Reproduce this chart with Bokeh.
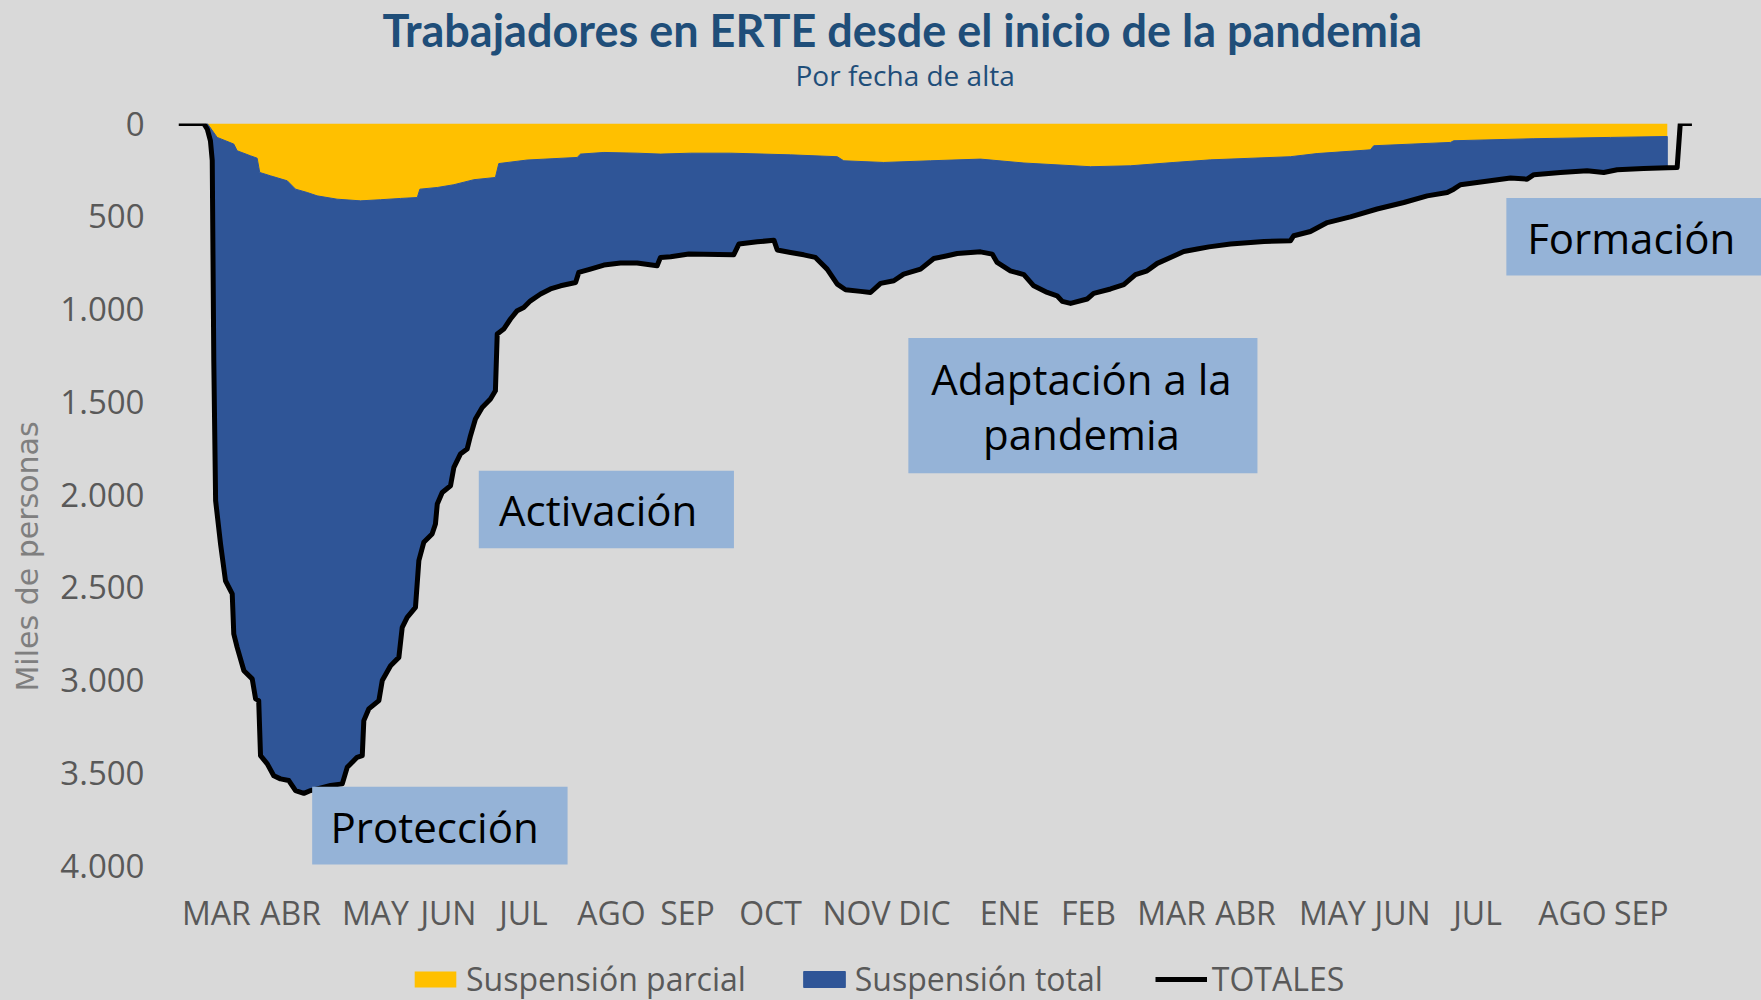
from bokeh.plotting import figure
from bokeh.layouts import column
from bokeh.models import Range1d, FixedTicker, Legend, LegendItem, Title, BoxAnnotation, Label
from bokeh.embed import file_html
from bokeh.resources import INLINE

# Días transcurridos desde el 1 de marzo de 2020 (fecha de alta)
dia_tot = [0.0, 9.7, 11.1, 12.3, 13.0, 13.6, 14.3, 16.2, 18.1, 20.7, 21.3, 22.6, 25.2, 28.4, 29.7,
           30.9, 31.6, 34.2, 36.7, 39.3, 42.5, 45.1, 48.3, 50.9, 58.6, 63.1, 65.0, 68.8, 70.8, 71.4,
           73.3, 77.2, 78.5, 81.7, 84.9, 86.2, 88.1, 91.3, 92.6, 94.5, 97.7, 99.0, 99.7, 101.6,
           104.8, 106.1, 108.6, 111.2, 112.5, 114.4, 117.0, 120.2, 122.1, 122.8, 125.3, 127.9,
           130.5, 133.0, 135.6, 139.5, 143.3, 147.2, 153.0, 154.2, 158.7, 163.9, 170.3, 176.7,
           184.4, 185.7, 189.6, 196.6, 213.9, 215.9, 223.0, 229.4, 230.7, 235.8, 240.9, 245.4,
           249.9, 253.8, 257.0, 262.8, 266.6, 270.5, 275.6, 279.4, 285.9, 291.0, 296.2, 300.0,
           309.0, 313.5, 315.4, 320.5, 325.7, 329.5, 334.7, 338.5, 340.5, 343.7, 350.1, 352.6,
           359.1, 364.2, 368.7, 373.2, 377.1, 382.2, 387.3, 392.5, 397.0, 405.3, 418.2, 428.4,
           429.7, 436.1, 442.6, 451.5, 461.8, 472.1, 481.1, 488.8, 491.3, 493.9, 500.3, 513.2,
           519.6, 522.2, 532.4, 542.7, 549.1, 554.3, 564.5, 573.6, 577.4, 578.6, 583.1]
# TOTALES (miles de personas)
totales = [0, 0, 30, 93, 200, 1280, 2033, 2267, 2465, 2536, 2752, 2824, 2950, 2994, 3102,
           3111, 3408, 3452, 3516, 3533, 3542, 3596, 3611, 3596, 3569, 3560, 3471, 3417, 3408, 3219,
           3156, 3111, 3003, 2923, 2878, 2716, 2662, 2608, 2357, 2258, 2213, 2159, 2051, 1989,
           1953, 1854, 1782, 1755, 1683, 1593, 1531, 1485, 1441, 1135, 1108, 1054,
           1009, 992, 956, 919, 892, 875, 857, 803, 785, 763, 752, 752,
           767, 722, 718, 704, 708, 650, 638, 629, 682, 695, 708, 722,
           785, 866, 896, 905, 911, 862, 848, 812, 785, 728, 713, 701,
           692, 704, 749, 794, 815, 875, 911, 929, 959, 970, 946, 916,
           892, 869, 815, 794, 754, 722, 690, 677, 665, 650, 636, 632,
           605, 582, 534, 503, 461, 426, 390, 372, 354, 330, 318, 294,
           300, 276, 264, 255, 264, 249, 243, 238, 237, 0, 0]

# Suspensión parcial (miles de personas)
dia_parcial = [11.1, 14.9, 21.3, 22.6, 27.7, 30.3, 31.3, 35.4, 41.9, 45.1, 49.6, 53.4, 61.1, 70.1,
               77.8, 85.5, 92.0, 93.0, 99.7, 106.1, 113.8, 122.1, 123.4, 134.3, 153.6, 154.9,
               163.9, 176.7, 185.7, 197.3, 212.7, 235.8, 253.8, 256.3, 271.7, 289.7, 309.0,
               325.7, 351.4, 366.8, 383.5, 397.6, 428.4, 438.7, 459.2, 460.5, 490.1, 491.3,
               522.2, 551.7, 573.6]
parcial = [0, 75, 111, 147, 174, 187, 264, 282, 309, 354, 372, 390, 408, 417,
           411, 404, 399, 354, 345, 330, 303, 291, 216, 197, 183, 165,
           156, 160, 165, 160, 160, 169, 179, 201, 210, 201, 192,
           213, 233, 228, 210, 196, 179, 162, 142, 120, 102, 93,
           82, 75, 70]

meses = ["MAR", "ABR", "MAY", "JUN", "JUL", "AGO", "SEP", "OCT", "NOV", "DIC",
         "ENE", "FEB", "MAR", "ABR", "MAY", "JUN", "JUL", "AGO", "SEP"]
dia_meses = [14.6, 43.2, 75.9, 104.0, 132.9, 166.8, 196.1, 228.1, 261.2, 287.4,
             320.2, 350.6, 382.6, 411.1, 444.6, 471.6, 500.5, 537.1, 563.6]
y_ticks = [0, 500, 1000, 1500, 2000, 2500, 3000, 3500, 4000]
y_labels = ["0", "500", "1.000", "1.500", "2.000", "2.500", "3.000", "3.500", "4.000"]

BG = "#D9D9D9"
YEL = "#FFC000"
BLUE = "#2F5597"
BOX = "#95B3D7"
GREY = "#595959"
TITLE_C = "#1F4E79"
FONT = "Open Sans"
NAN = float("nan")

p = figure(width=1761, height=950, x_range=Range1d(0, 609.9), y_range=Range1d(4000, 0),
           output_backend="svg", toolbar_location=None,
           min_border_left=178, min_border_right=0, min_border_top=123, min_border_bottom=85,
           background_fill_color=BG, border_fill_color=BG, outline_line_color=None)
p.grid.visible = False

# yellow: suspension parcial from 0
r_par = p.varea(x=dia_parcial, y1=[0] * len(parcial), y2=parcial, fill_color=YEL)

# blue: between parcial and totales
lo, hi = dia_parcial[0], dia_parcial[-1]
tot_pairs = [(d, v) for d, v in zip(dia_tot, totales) if lo <= d <= hi]
xs = list(dia_parcial) + [d for d, v in reversed(tot_pairs)]
ys = list(parcial) + [v for d, v in reversed(tot_pairs)]
r_tot = p.patch(x=xs, y=ys, fill_color=BLUE, line_color=BLUE, line_width=1)

r_line = p.line(x=dia_tot, y=totales, line_color="black", line_width=5, line_join="round")

# axes
p.xaxis.ticker = FixedTicker(ticks=dia_meses)
p.xaxis.major_label_overrides = {t: m for t, m in zip(dia_meses, meses)}
p.yaxis.ticker = FixedTicker(ticks=y_ticks)
p.yaxis.major_label_overrides = {t: l for t, l in zip(y_ticks, y_labels)}
for ax in (p.xaxis[0], p.yaxis[0]):
    ax.axis_line_color = None
    ax.major_tick_line_color = None
    ax.minor_tick_line_color = None
    ax.major_tick_out = 0
    ax.major_tick_in = 0
    ax.minor_tick_out = 0
    ax.major_label_text_font = FONT
    ax.major_label_text_color = GREY
p.xaxis.major_label_text_font_size = "32px"
p.xaxis.major_label_standoff = 25
p.yaxis.major_label_text_font_size = "33px"
p.yaxis.major_label_standoff = 34
p.yaxis.axis_label = "Miles de personas" + "\u00a0" * 13
p.yaxis.axis_label_text_font = "DejaVu Sans"
p.yaxis.axis_label_text_font_size = "30px"
p.yaxis.axis_label_text_font_style = "normal"
p.yaxis.axis_label_text_color = "#7F7F7F"
p.yaxis.axis_label_standoff = 12

# titles (stacked upward from the frame)
spacer = Title(text=" ", text_font=FONT, text_font_size="20.5px", standoff=0)
sub = Title(text="Por fecha de alta", align="left", offset=617, text_font=FONT,
            text_font_size="28px", text_font_style="normal", text_color=TITLE_C, standoff=0)
main = Title(text="Trabajadores en ERTE desde el inicio de la pandemia", align="left", offset=204,
             text_font="Lato", text_font_size="45px", text_font_style="bold", text_color=TITLE_C,
             standoff=-6.5)
p.add_layout(spacer, "above")
p.add_layout(sub, "above")
p.add_layout(main, "above")

# phase boxes
boxes = [
    (51.5, 149.9, 3575, 3995, "Protección", 58.6, 3788, "left"),
    (115.7, 214.0, 1872, 2290, "Activación", 123.5, 2081, "left"),
    (281.2, 415.7, 1157, 1886, "Adaptación a la\npandemia", 347.9, 1523, "center"),
    (511.6, 615.0, 402, 819, "Formación", 519.6, 614, "left"),
]
for l, r, t, b, txt, tx, ty, al in boxes:
    p.add_layout(BoxAnnotation(left=l, right=r, top=t, bottom=b, fill_color=BOX, fill_alpha=1,
                               line_color=None))
    p.add_layout(Label(x=tx, y=ty, text=txt, text_align=al, text_baseline="middle",
                       text_font=FONT, text_font_size="42px", text_color="black",
                       text_line_height=0.98))

# legend strip below the chart (legend keys only, no data drawn)
q = figure(width=1761, height=50, x_range=Range1d(0, 1), y_range=Range1d(0, 1),
           output_backend="svg", toolbar_location=None, min_border=0,
           x_axis_location=None, y_axis_location=None,
           background_fill_color=BG, border_fill_color=BG, outline_line_color=None)
q.grid.visible = False
k_par = q.varea(x=[NAN], y1=[NAN], y2=[NAN], fill_color=YEL)
k_tot = q.patch(x=[NAN], y=[NAN], fill_color=BLUE, line_color=BLUE)
k_line = q.line(x=[NAN], y=[NAN], line_color="black", line_width=5)
legend = Legend(items=[LegendItem(label="Suspensión parcial", renderers=[k_par]),
                       LegendItem(label="Suspensión total", renderers=[k_tot]),
                       LegendItem(label="TOTALES", renderers=[k_line])],
                orientation="horizontal", location=(231, 0),
                background_fill_alpha=0, border_line_alpha=0,
                glyph_width=52, glyph_height=20, label_standoff=5, spacing=52,
                padding=0, margin=0, label_text_font=FONT, label_text_font_size="32px",
                label_text_color=GREY)
q.add_layout(legend)

layout = column(p, q, styles={"background-color": BG})
open("out.html", "w").write(file_html(layout, INLINE))
